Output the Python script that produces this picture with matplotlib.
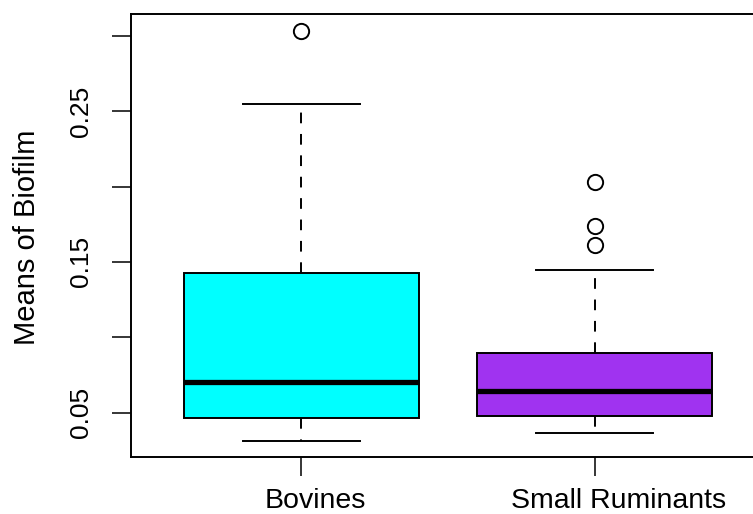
import matplotlib
matplotlib.use("Agg")
from matplotlib import pyplot as plt
from matplotlib.transforms import offset_copy

plt.rcParams['font.family'] = ['Liberation Sans', 'DejaVu Sans']

# Box summaries per group (mean biofilm values)
groups = ['Bovines', 'Small Ruminants']
q1 = [0.0465, 0.0475]
medians = [0.0701, 0.0642]
q3 = [0.1428, 0.0897]
whisker_low = [0.0314, 0.0365]
whisker_high = [0.2551, 0.1443]
outliers = [[0.3034], [0.2033, 0.1738, 0.1610]]
box_colors = ['#00FFFF', '#A033F0']

yticks = [0.05, 0.10, 0.15, 0.20, 0.25, 0.30]
ytick_labels = ['0.05', '', '0.15', '', '0.25', '']

fig = plt.figure(figsize=(7.53, 5.14), dpi=100)
# axes runs slightly past the right edge of the figure
ax = fig.add_axes([131/753, 57/514, 634/753, 443/514])

stats = []
for i in range(len(groups)):
    stats.append({'label': groups[i], 'q1': q1[i], 'med': medians[i], 'q3': q3[i],
                  'whislo': whisker_low[i], 'whishi': whisker_high[i],
                  'fliers': outliers[i]})

positions = list(range(1, len(groups) + 1))
bp = ax.bxp(stats, positions=positions, widths=0.8, capwidths=0.4,
            patch_artist=True, showfliers=True,
            boxprops=dict(edgecolor='black', linewidth=1.4),
            medianprops=dict(color='black', linewidth=3.8, solid_capstyle='butt'),
            whiskerprops=dict(color='black', linewidth=1.4, linestyle=(0, (5.5, 5.5))),
            capprops=dict(color='black', linewidth=1.4),
            flierprops=dict(marker='o', markerfacecolor='none', markeredgecolor='black',
                            markersize=11, markeredgewidth=1.4))
for patch, c in zip(bp['boxes'], box_colors):
    patch.set_facecolor(c)

ax.set_xlim(0.42, 2.58)
ax.set_ylim(0.0205, 0.3145)

for s in ax.spines.values():
    s.set_linewidth(1.4)

ax.set_yticks(yticks)
ax.set_yticklabels(ytick_labels, rotation=90, va='center', fontsize=19)
ax.tick_params(axis='y', length=13.7, width=1.1, pad=14)

# category labels sit a little to the right of their ticks
ax.set_xticks(positions)
ax.set_xticklabels([''] * len(groups))
ax.tick_params(axis='x', length=14, width=1.1)
shifts = [14, 24]
for p, g, dx in zip(positions, groups, shifts):
    tr = offset_copy(ax.get_xaxis_transform(), fig=fig, x=dx, y=0, units='dots')
    ax.text(p, -0.114, g, transform=tr, ha='center', va='baseline', fontsize=20.5)

ax.set_ylabel('Means of Biofilm', fontsize=21)
ax.yaxis.set_label_coords(-0.142, 0.497)

plt.savefig('out.png', dpi=100)
